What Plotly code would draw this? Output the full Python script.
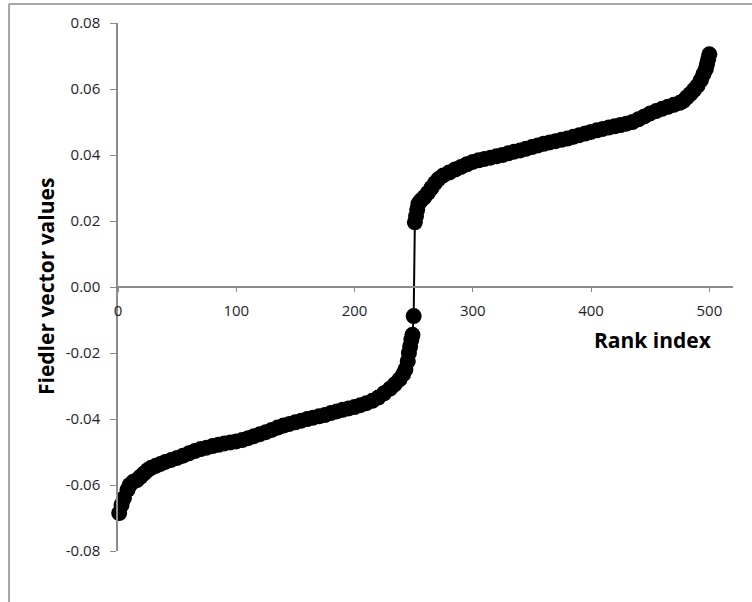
import plotly.graph_objects as go

# Sorted Fiedler vector components against their rank
rank_index = [
    1, 3, 5, 8, 10, 13, 16, 19, 22, 25, 28, 32, 36, 40, 45, 50, 55, 60, 65, 70,
    75, 80, 85, 90, 95, 100, 105, 110, 115, 120, 125, 130, 135, 140, 145, 150,
    155, 160, 165, 170, 175, 180, 185, 190, 195, 200, 205, 210, 215, 220, 225,
    230, 234, 238, 241, 243, 245, 246, 247, 248, 249, 250,
    251, 252, 253, 254, 256, 259, 262, 265, 268, 271, 275, 280, 285, 290, 295,
    300, 305, 310, 315, 320, 325, 330, 335, 340, 345, 350, 355, 360, 365, 370,
    375, 380, 385, 390, 395, 400, 405, 410, 415, 420, 425, 430, 435, 440, 445,
    450, 455, 460, 465, 470, 475, 478, 481, 484, 487, 490, 493, 495, 497, 498,
    499, 500,
]
fiedler_values = [
    -0.0685, -0.0660, -0.0640, -0.0615, -0.0600, -0.0590, -0.0585, -0.0575,
    -0.0565, -0.0555, -0.0548, -0.0542, -0.0536, -0.0530, -0.0524, -0.0518,
    -0.0511, -0.0504, -0.0497, -0.0491, -0.0487, -0.0482, -0.0478, -0.0474,
    -0.0471, -0.0468, -0.0464, -0.0458, -0.0452, -0.0446, -0.0440, -0.0433,
    -0.0426, -0.0420, -0.0415, -0.0410, -0.0405, -0.0400, -0.0396, -0.0392,
    -0.0388, -0.0382, -0.0377, -0.0372, -0.0368, -0.0364, -0.0358, -0.0352,
    -0.0345, -0.0335, -0.0322, -0.0308, -0.0295, -0.0280, -0.0265, -0.0250,
    -0.0225, -0.0200, -0.0180, -0.0160, -0.0145, -0.0088,
    0.0196, 0.0215, 0.0235, 0.0252, 0.0262, 0.0272, 0.0285, 0.0300, 0.0315,
    0.0327, 0.0338, 0.0347, 0.0356, 0.0364, 0.0372, 0.0379, 0.0384, 0.0388,
    0.0392, 0.0396, 0.0400, 0.0405, 0.0410, 0.0414, 0.0419, 0.0424, 0.0429,
    0.0434, 0.0438, 0.0442, 0.0446, 0.0450, 0.0455, 0.0460, 0.0465, 0.0470,
    0.0475, 0.0479, 0.0483, 0.0487, 0.0491, 0.0495, 0.0500, 0.0508, 0.0517,
    0.0526, 0.0533, 0.0540, 0.0546, 0.0552, 0.0558, 0.0564, 0.0575, 0.0585,
    0.0597, 0.0610, 0.0628, 0.0645, 0.0660, 0.0675, 0.0690, 0.0705,
]

x_ticks = [0, 100, 200, 300, 400, 500]
y_ticks = [-0.08, -0.06, -0.04, -0.02, 0.00, 0.02, 0.04, 0.06, 0.08]

x_title = "Rank index"
y_title = "Fiedler vector values"

axis_grey = "#8c8c8c"
text_col = "#1e1e2a"
tick_font = dict(family="Open Sans", size=15, color=text_col)
title_font = dict(family="Open Sans", size=21, color="#000000")

fig = go.Figure()
fig.add_trace(go.Scatter(
    x=rank_index,
    y=fiedler_values,
    mode="lines+markers",
    line=dict(color="black", width=2),
    marker=dict(color="black", size=16, line=dict(width=0)),
    showlegend=False,
    cliponaxis=False,
))

fig.update_layout(
    width=752,
    height=602,
    margin=dict(l=118, r=19, t=23, b=51),
    paper_bgcolor="white",
    plot_bgcolor="white",
    showlegend=False,
    xaxis=dict(
        range=[0, 520],
        tickvals=x_ticks,
        ticktext=[str(v) for v in x_ticks],
        showgrid=False,
        zeroline=False,
        showline=True,
        linecolor=axis_grey,
        linewidth=1.5,
        ticks="outside",
        ticklen=4,
        tickcolor=axis_grey,
        tickfont=tick_font,
        ticklabelstandoff=6,
        anchor="free",
        position=0.5,
    ),
    yaxis=dict(
        range=[-0.08, 0.08],
        tickvals=y_ticks,
        ticktext=[f"{v:.2f}" for v in y_ticks],
        showgrid=False,
        zeroline=False,
        showline=True,
        linecolor=axis_grey,
        linewidth=1.5,
        ticks="outside",
        ticklen=6,
        tickcolor=axis_grey,
        tickfont=tick_font,
        ticklabelstandoff=7,
    ),
    annotations=[
        dict(
            text=f"<b>{x_title}</b>",
            x=(653 - 118) / 615, y=(551 - 340) / 528,
            xref="paper", yref="paper",
            showarrow=False, font=title_font,
            xanchor="center", yanchor="middle",
        ),
        dict(
            text=f"<b>{y_title}</b>",
            x=-0.117, y=0.5, xref="paper", yref="paper",
            showarrow=False, font=title_font, textangle=-90,
            xanchor="center", yanchor="middle",
        ),
    ],
    shapes=[
        # outer chart frame (left and top edges)
        dict(type="line", xref="paper", yref="paper",
             x0=-0.1772, x1=-0.1772, y0=-0.2, y1=1.036,
             line=dict(color="#a6a6a6", width=2)),
        dict(type="line", xref="paper", yref="paper",
             x0=-0.1772, x1=1.1, y0=1.036, y1=1.036,
             line=dict(color="#a6a6a6", width=2)),
    ],
)

fig.write_html("out.html")
